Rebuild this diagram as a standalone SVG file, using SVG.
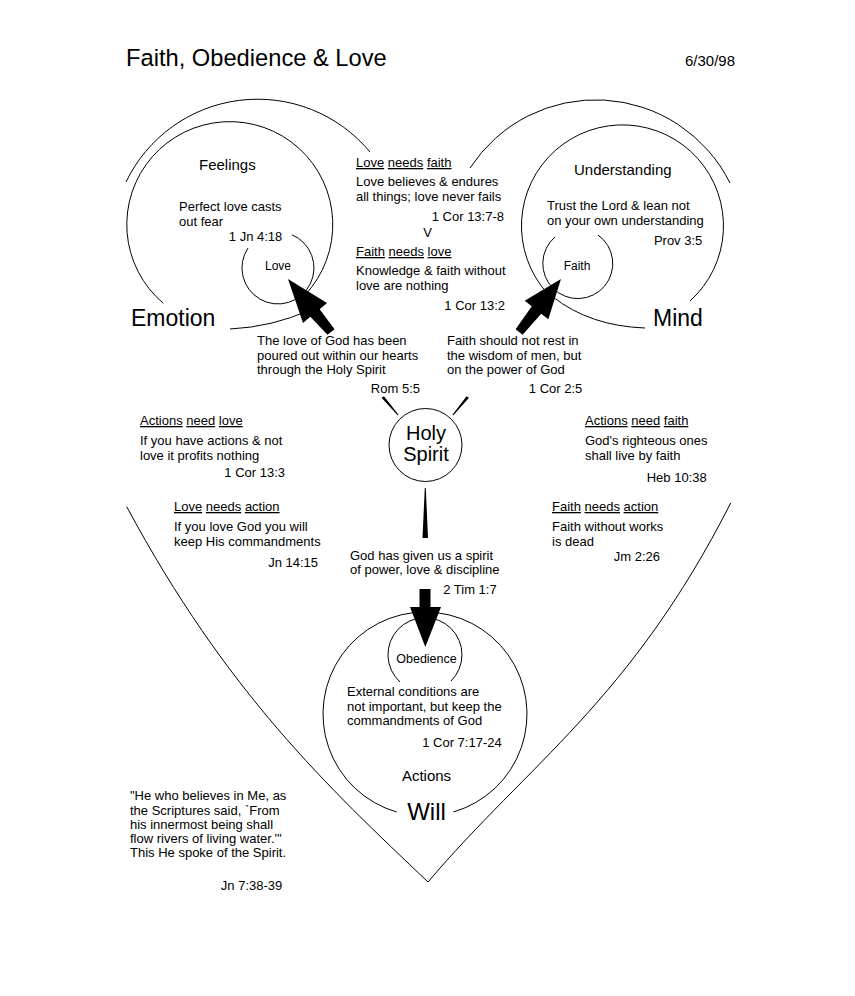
<svg xmlns="http://www.w3.org/2000/svg" width="855" height="996" viewBox="0 0 855 996">
<style>
.l{fill:none;stroke:#000;stroke-width:1}
.a{fill:#000;stroke:none}
text{font-family:"Liberation Sans",Arial,sans-serif;font-size:13px;fill:#000}
.s{font-size:12px}
.m{font-size:15px}
.b{font-size:23px}
.h{font-size:20px}
.e{text-anchor:end}
.c{text-anchor:middle}
.u{text-decoration:underline}
</style>
<rect width="855" height="996" fill="#fff"/>

<g id="title">
<text x="126" y="66" style="font-size:23.7px">Faith, Obedience &amp; Love</text>
<text x="735" y="66" class="e" style="font-size:15px">6/30/98</text>
</g>

<g id="heart-outline">
<path class="l" d="M126,182 A146,146 0 0 1 370,152"/>
<path class="l" d="M470,168 A150,150 0 0 1 730,183"/>
<path class="l" d="M126.7,506.7 C226.7,692.7 328,787 428,882"/>
<path class="l" d="M730.7,503 C630.7,700 528,764 428,882"/>
</g>

<g id="node-emotion">
<path class="l" d="M163.3,303.3 A103,103 0 1 1 305,295"/>
<path class="l" d="M230,329 Q272,327 310,310"/>
<path class="l" d="M248,248 A36,36 0 1 0 292,234.8"/>
<text x="199" y="170" class="m">Feelings</text>
<text x="179" y="211">Perfect love casts</text>
<text x="179" y="226">out fear</text>
<text x="282.3" y="241" class="e">1 Jn 4:18</text>
<text x="278" y="270" class="s c">Love</text>
<text x="131" y="326" class="b">Emotion</text>
</g>

<g id="node-mind">
<path class="l" d="M690,301 A101,101 0 1 0 547,293"/>
<path class="l" d="M645,328 Q590,326 553,297"/>
<path class="l" d="M598,235 A35,35 0 1 1 555,237"/>
<text x="574" y="175" class="m">Understanding</text>
<text x="547" y="210">Trust the Lord &amp; lean not</text>
<text x="547" y="225">on your own understanding</text>
<text x="702.3" y="245" class="e">Prov 3:5</text>
<text x="577" y="270" class="s c">Faith</text>
<text x="653" y="326" class="b">Mind</text>
</g>

<g id="note-love-faith">
<text x="356" y="167"><tspan class="u">Love</tspan> <tspan class="u">needs</tspan> <tspan class="u">faith</tspan></text>
<text x="356" y="186">Love believes &amp; endures</text>
<text x="356" y="201">all things; love never fails</text>
<text x="504" y="221" class="e">1 Cor 13:7-8</text>
<text x="427.5" y="237" class="c">V</text>
<text x="356" y="256"><tspan class="u">Faith</tspan> <tspan class="u">needs</tspan> <tspan class="u">love</tspan></text>
<text x="356" y="275">Knowledge &amp; faith without</text>
<text x="356" y="290">love are nothing</text>
<text x="505" y="310" class="e">1 Cor 13:2</text>
</g>

<g id="note-rom">
<text x="257" y="345">The love of God has been</text>
<text x="257" y="360">poured out within our hearts</text>
<text x="257" y="374">through the Holy Spirit</text>
<text x="420" y="393" class="e">Rom 5:5</text>
</g>

<g id="note-cor2">
<text x="447" y="345">Faith should not rest in</text>
<text x="447" y="360">the wisdom of men, but</text>
<text x="447" y="374">on the power of God</text>
<text x="582.3" y="393" class="e">1 Cor 2:5</text>
</g>

<g id="node-holy-spirit">
<circle class="l" cx="425.5" cy="445" r="36.5"/>
<text x="426" y="440" class="h c">Holy</text>
<text x="426" y="461" class="h c">Spirit</text>
</g>

<g id="note-actions-love">
<text x="140" y="425"><tspan class="u">Actions</tspan> <tspan class="u">need</tspan> <tspan class="u">love</tspan></text>
<text x="140" y="445">If you have actions &amp; not</text>
<text x="140" y="460">love it profits nothing</text>
<text x="285" y="477" class="e">1 Cor 13:3</text>
</g>

<g id="note-love-action">
<text x="174" y="511"><tspan class="u">Love</tspan> <tspan class="u">needs</tspan> <tspan class="u">action</tspan></text>
<text x="174" y="531">If you love God you will</text>
<text x="174" y="546">keep His commandments</text>
<text x="318" y="567" class="e">Jn 14:15</text>
</g>

<g id="note-actions-faith">
<text x="585" y="425"><tspan class="u">Actions</tspan> <tspan class="u">need</tspan> <tspan class="u">faith</tspan></text>
<text x="585" y="445">God's righteous ones</text>
<text x="585" y="460">shall live by faith</text>
<text x="706.7" y="482" class="e">Heb 10:38</text>
</g>

<g id="note-faith-action">
<text x="552" y="511"><tspan class="u">Faith</tspan> <tspan class="u">needs</tspan> <tspan class="u">action</tspan></text>
<text x="552" y="531">Faith without works</text>
<text x="552" y="546">is dead</text>
<text x="660" y="561" class="e">Jm 2:26</text>
</g>

<g id="note-tim">
<text x="350" y="560">God has given us a spirit</text>
<text x="350" y="574">of power, love &amp; discipline</text>
<text x="496.7" y="594" class="e">2 Tim 1:7</text>
</g>

<g id="node-will">
<path class="l" d="M453.3,812 A102,102 0 1 0 396.7,812"/>
<path class="l" d="M400,682 A37,37 0 1 1 451,681"/>
<text x="426.5" y="662.5" class="c" style="font-size:12.5px">Obedience</text>
<text x="347" y="696">External conditions are</text>
<text x="347" y="711">not important, but keep the</text>
<text x="347" y="725">commandments of God</text>
<text x="501.7" y="747" class="e">1 Cor 7:17-24</text>
<text x="426.5" y="781" class="m c">Actions</text>
<text x="426.5" y="820" class="c" style="font-size:24px">Will</text>
</g>

<g id="note-jn7">
<text x="130" y="800">"He who believes in Me, as</text>
<text x="130" y="815">the Scriptures said, `From</text>
<text x="130" y="829">his innermost being shall</text>
<text x="130" y="843">flow rivers of living water.'"</text>
<text x="130" y="857">This He spoke of the Spirit.</text>
<text x="282.3" y="890" class="e">Jn 7:38-39</text>
</g>

<g id="connectors">
<polygon class="a" points="288,279 327,303 319.7,309.3 334.5,329.2 327.5,334.8 310.3,316.7 303,323"/>
<polygon class="a" points="561,279 548.3,319.3 541.2,313.7 522.6,334.8 515.6,329.2 531.8,306.3 524.7,300.7"/>
<polygon class="a" points="381.5,397.8 384,396.2 398.5,414.8 397.8,415.4"/>
<polygon class="a" points="466.5,396.2 469,397.8 453.2,415.4 452.5,414.8"/>
<polygon class="a" points="424.8,488 425.8,488 428,538 422.5,538"/>
<polygon class="a" points="419.5,589 430.5,589 430.5,607 441,607 425.3,647 410,607 419.5,607"/>
</g>
</svg>
